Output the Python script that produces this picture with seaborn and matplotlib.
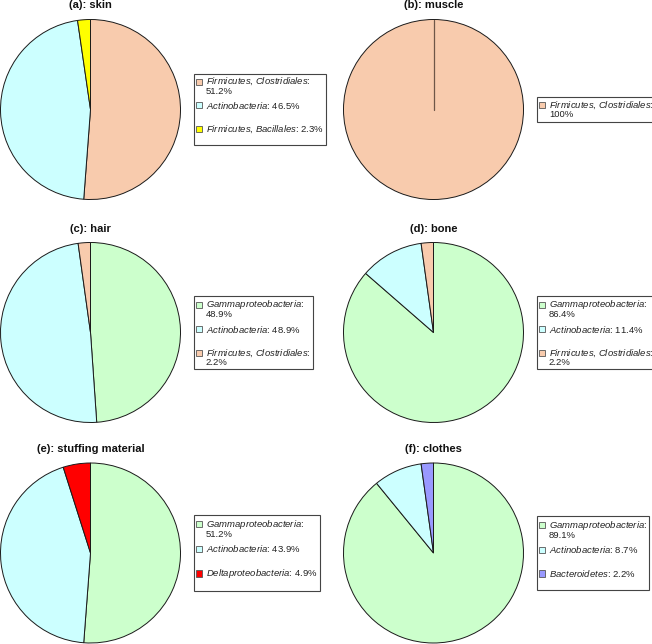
import numpy as np
import matplotlib
matplotlib.use("Agg")
import matplotlib.pyplot as plt
import matplotlib.patches as mpatches
from matplotlib.legend_handler import HandlerPatch
import seaborn as sns

# Bacterial composition per sample type (percent of isolates)
titles = ["(a): skin", "(b): muscle", "(c): hair", "(d): bone",
          "(e): stuffing material", "(f): clothes"]

skin_taxa = ["Firmicutes, Clostridiales", "Actinobacteria", "Firmicutes, Bacillales"]
skin_pct = [51.2, 46.5, 2.3]

muscle_taxa = ["Firmicutes, Clostridiales"]
muscle_pct = [100]

hair_taxa = ["Gammaproteobacteria", "Actinobacteria", "Firmicutes, Clostridiales"]
hair_pct = [48.9, 48.9, 2.2]

bone_taxa = ["Gammaproteobacteria", "Actinobacteria", "Firmicutes, Clostridiales"]
bone_pct = [86.4, 11.4, 2.2]

stuffing_taxa = ["Gammaproteobacteria", "Actinobacteria", "Deltaproteobacteria"]
stuffing_pct = [51.2, 43.9, 4.9]

clothes_taxa = ["Gammaproteobacteria", "Actinobacteria", "Bacteroidetes"]
clothes_pct = [89.1, 8.7, 2.2]

taxa_colors = {
    "Firmicutes, Clostridiales": "#F8CBAD",
    "Actinobacteria": "#CCFFFF",
    "Firmicutes, Bacillales": "#FFFF00",
    "Gammaproteobacteria": "#CCFFCC",
    "Deltaproteobacteria": "#FF0000",
    "Bacteroidetes": "#9999FF",
}
# names long enough that the legend puts the value on its own line
wrapped = {"Firmicutes, Clostridiales", "Gammaproteobacteria"}

panels = [(skin_taxa, skin_pct), (muscle_taxa, muscle_pct),
          (hair_taxa, hair_pct), (bone_taxa, bone_pct),
          (stuffing_taxa, stuffing_pct), (clothes_taxa, clothes_pct)]

sns.set_style("white")
plt.rcParams["font.family"] = ["Liberation Sans", "DejaVu Sans"]
plt.rcParams["mathtext.fontset"] = "custom"
plt.rcParams["mathtext.rm"] = "Liberation Sans"
plt.rcParams["mathtext.it"] = "Liberation Sans:italic"

W, H = 652, 644
fig = plt.figure(figsize=(W / 100, H / 100), dpi=100)
fig.patch.set_facecolor("white")

# pie centres in pixels (from top-left) and radius
centres = [(90.5, 109.5), (433.5, 109.5), (90.5, 332.5),
           (433.5, 332.5), (90.5, 553), (433.5, 553)]
R = 90
pad = 1.0
LEG_FS = 6.8


def label_for(name, value):
    words = name.split(", ")
    txt = ", ".join(r"$\mathit{" + w + "}$" for w in words) + ":"
    val = f"{value:g}%"
    if name in wrapped:
        return txt + "\n" + val
    return txt + " " + val + "\n"


def first_line_patch(legend, orig_handle, xdescent, ydescent, width, height, fontsize):
    return mpatches.Rectangle((-xdescent, -ydescent + 0.45 * fontsize), width, height)


for (taxa, pct), title, (cx, cy) in zip(panels, titles, centres):
    half = R + pad
    ax = fig.add_axes([(cx - half) / W, 1 - (cy + half) / H, 2 * half / W, 2 * half / H])
    cols = [taxa_colors[t] for t in taxa]
    wedges, _ = ax.pie(pct, colors=cols, startangle=90, counterclock=False,
                       wedgeprops=dict(edgecolor="#1a1a1a", linewidth=0.7))
    lim = half / R
    ax.set_xlim(-lim, lim)
    ax.set_ylim(-lim, lim)
    ax.set_axis_off()

    if len(wedges) == 1:
        # full circle: draw the seam from centre to the start angle
        w = wedges[0]
        th = np.deg2rad(w.theta1)
        ax.plot([w.center[0], w.center[0] + w.r * np.cos(th)],
                [w.center[1], w.center[1] + w.r * np.sin(th)],
                color="#6e5647", linewidth=0.9)

    fig.text(cx / W, 1 - (cy - R - 14) / H, title, ha="center", va="center",
             fontsize=8.0, fontweight="bold", color="#111111")

    handles = [mpatches.Patch(facecolor=c, edgecolor="#555555", linewidth=0.6) for c in cols]
    labels = [label_for(t, v) for t, v in zip(taxa, pct)]
    leg = ax.legend(handles, labels, loc="center left",
                    bbox_to_anchor=((cx + R + 13.5) / W, 1 - cy / H),
                    bbox_transform=fig.transFigure, fontsize=LEG_FS,
                    frameon=True, fancybox=False, framealpha=1,
                    edgecolor="#444444", borderpad=0.25, labelspacing=0.45,
                    handlelength=0.62, handleheight=0.62, handletextpad=0.38,
                    borderaxespad=0,
                    handler_map={mpatches.Patch: HandlerPatch(patch_func=first_line_patch)})
    leg.get_frame().set_linewidth(0.8)
    for t in leg.get_texts():
        t.set_color("#222222")
        t.set_linespacing(0.9)

fig.savefig("out.png", dpi=100, facecolor="white")
